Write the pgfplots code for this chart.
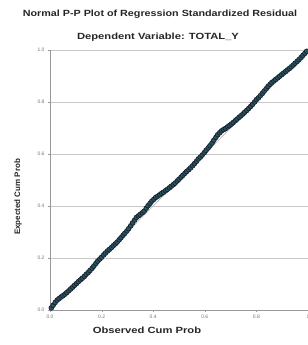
\documentclass[border=0pt]{standalone}
\usepackage{pgfplots}
\pgfplotsset{compat=1.18}
\usepackage{fontspec}
\setmainfont{Liberation Sans}
\definecolor{dotc}{HTML}{16222B}
\definecolor{dotf}{HTML}{2B5262}
\newcommand{\tfont}{\bfseries\fontsize{9}{10}\selectfont}
\begin{document}
\begin{tikzpicture}[x=1bp,y=1bp]
\useasboundingbox (0,0) rectangle (308,345);
\node[font=\tfont, text=black!85] at (160,331) {\scalebox{1.2}[1]{Normal P-P Plot of Regression Standardized Residual}};
\node[font=\tfont, text=black!85] at (158,308) {\scalebox{1.25}[1]{Dependent Variable: TOTAL\_Y}};
\begin{axis}[
  at={(50bp,35bp)}, anchor=south west,
  scale only axis, width=258bp, height=260bp,
  xmin=0, xmax=1, ymin=0, ymax=1,
  axis lines=left, axis line style={black!40, -},
  xtick={0,0.2,0.4,0.6,0.8,1}, ytick={0,0.2,0.4,0.6,0.8,1},
  xticklabels={0.0,0.2,0.4,0.6,0.8,1},
  yticklabels={0.0,0.2,0.4,0.6,0.8,1.0},
  ymajorgrids, grid style={black!22, line width=0.6pt},
  tick style={black!40}, tick align=outside, major tick length=2bp,
  ticklabel style={font=\fontsize{5}{5}\selectfont, text=black!55},
  /pgf/number format/assume math mode=true,
  xlabel={\scalebox{1.25}[1]{Observed Cum Prob}}, ylabel={Expected Cum Prob},
  xlabel style={font=\tfont, text=black!85, at={(axis description cs:0.376,0)}, anchor=center, yshift=-20bp},
  ylabel style={font=\bfseries\fontsize{8}{9}\selectfont, text=black!85, at={(axis description cs:-0.124,0.435)}, anchor=center},
  clip=false,
]
\addplot[black!30, line width=0.6pt] coordinates {(0,0) (1,1)};
\addplot[only marks, mark=*, mark size=2.4bp, mark options={draw=dotc, fill=dotf, line width=0.7pt}] coordinates {
(0.005,0.008) (0.012,0.018) (0.020,0.029) (0.028,0.038) (0.035,0.044) (0.043,0.050) (0.050,0.055) (0.058,0.061)
(0.065,0.067) (0.073,0.074) (0.080,0.081) (0.088,0.088) (0.095,0.095) (0.103,0.102) (0.110,0.109) (0.118,0.116)
(0.125,0.122) (0.133,0.129) (0.140,0.137) (0.148,0.144) (0.155,0.152) (0.163,0.160) (0.170,0.169) (0.178,0.179)
(0.185,0.188) (0.193,0.196) (0.200,0.203) (0.208,0.212) (0.215,0.219) (0.223,0.227) (0.230,0.233) (0.238,0.240)
(0.245,0.247) (0.253,0.254) (0.260,0.261) (0.268,0.270) (0.275,0.278) (0.283,0.287) (0.290,0.295) (0.298,0.304)
(0.305,0.313) (0.313,0.324) (0.320,0.335) (0.328,0.346) (0.335,0.356) (0.343,0.362) (0.350,0.368) (0.358,0.374)
(0.365,0.380) (0.373,0.391) (0.380,0.401) (0.388,0.410) (0.395,0.419) (0.403,0.426) (0.410,0.433) (0.418,0.438)
(0.425,0.443) (0.433,0.449) (0.440,0.453) (0.448,0.459) (0.455,0.464) (0.463,0.470) (0.470,0.476) (0.478,0.482)
(0.485,0.488) (0.493,0.496) (0.500,0.503) (0.508,0.511) (0.515,0.518) (0.523,0.526) (0.530,0.533) (0.538,0.540)
(0.545,0.547) (0.553,0.555) (0.560,0.563) (0.568,0.572) (0.575,0.581) (0.583,0.588) (0.590,0.596) (0.598,0.605)
(0.605,0.614) (0.613,0.623) (0.620,0.632) (0.628,0.642) (0.635,0.653) (0.643,0.664) (0.650,0.674) (0.658,0.682)
(0.665,0.689) (0.673,0.694) (0.680,0.698) (0.688,0.704) (0.695,0.709) (0.703,0.715) (0.710,0.721) (0.718,0.728)
(0.725,0.734) (0.733,0.741) (0.740,0.747) (0.748,0.754) (0.755,0.761) (0.763,0.768) (0.770,0.775) (0.778,0.783)
(0.785,0.791) (0.793,0.800) (0.800,0.809) (0.808,0.816) (0.815,0.824) (0.823,0.833) (0.830,0.842) (0.838,0.851)
(0.845,0.860) (0.853,0.868) (0.860,0.875) (0.868,0.881) (0.875,0.887) (0.883,0.893) (0.890,0.899) (0.898,0.905)
(0.905,0.911) (0.913,0.917) (0.920,0.923) (0.928,0.929) (0.935,0.935) (0.943,0.942) (0.950,0.949) (0.958,0.956)
(0.965,0.963) (0.973,0.971) (0.980,0.979) (0.988,0.987) (0.995,0.995)
};
\end{axis}
\end{tikzpicture}
\end{document}
